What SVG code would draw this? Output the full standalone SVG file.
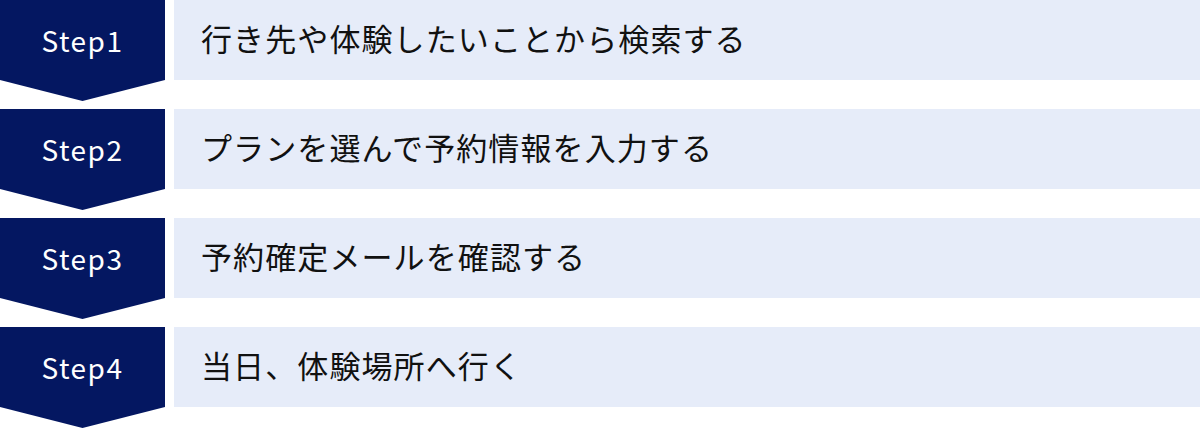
<svg xmlns="http://www.w3.org/2000/svg" width="1200" height="429" viewBox="0 0 1200 429">
<defs>
<style>
.tag{fill:#041761}
.box{fill:#e6ecf9}
.st{font-family:"Noto Sans CJK JP","Noto Sans",sans-serif;font-size:28px;font-weight:400;fill:#ffffff;text-anchor:middle;letter-spacing:1.5px}
.tx{font-family:"Noto Sans CJK JP","Noto Sans",sans-serif;font-size:31px;fill:#111111;letter-spacing:1.1px}
</style>
<polygon id="tagShape" class="tag" points="0,0 165,0 165,80 82.5,101 0,80"/>
</defs>
<rect width="1200" height="429" fill="#ffffff"/>
<g id="step1">
<use href="#tagShape"/>
<rect class="box" x="174" y="0" width="1026" height="80"/>
<text class="st" x="82.5" y="52">Step1</text>
<text class="tx" x="201" y="51">行き先や体験したいことから検索する</text>
</g>
<g id="step2" transform="translate(0,109)">
<use href="#tagShape"/>
<rect class="box" x="174" y="0" width="1026" height="80"/>
<text class="st" x="82.5" y="52">Step2</text>
<text class="tx" x="201" y="51">プランを選んで予約情報を入力する</text>
</g>
<g id="step3" transform="translate(0,218)">
<use href="#tagShape"/>
<rect class="box" x="174" y="0" width="1026" height="80"/>
<text class="st" x="82.5" y="52">Step3</text>
<text class="tx" x="201" y="51">予約確定メールを確認する</text>
</g>
<g id="step4" transform="translate(0,327)">
<use href="#tagShape"/>
<rect class="box" x="174" y="0" width="1026" height="80"/>
<text class="st" x="82.5" y="52">Step4</text>
<text class="tx" x="201" y="51">当日、体験場所へ行く</text>
</g>
<g id="connectors"></g>
</svg>
